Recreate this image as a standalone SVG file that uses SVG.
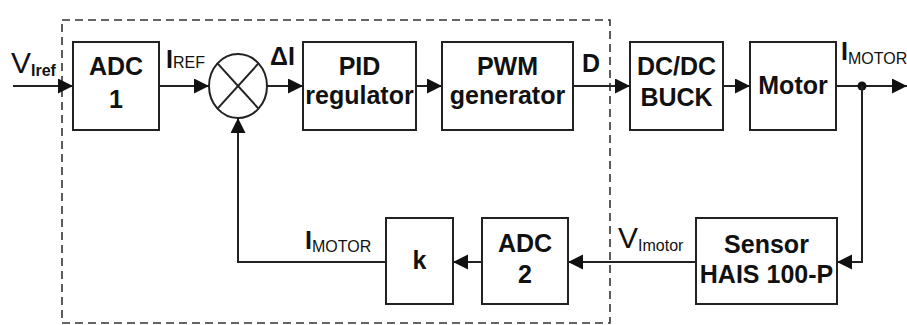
<svg xmlns="http://www.w3.org/2000/svg" width="907" height="325" viewBox="0 0 907 325">
<style>
.box{fill:#fff;stroke:#222;stroke-width:2}
.ln{fill:none;stroke:#222;stroke-width:2}
.t{font-family:"Liberation Sans",Arial,sans-serif;font-weight:bold;font-size:25px;fill:#111;text-anchor:middle}
.lb{font-family:"Liberation Sans",Arial,sans-serif;fill:#111}
.big{font-size:25px;font-weight:bold}
.sub{font-size:16px}
</style>
<defs>
<marker id="ah" markerWidth="16" markerHeight="16" refX="15" refY="7.5" orient="auto" markerUnits="userSpaceOnUse">
<path d="M0,0 L15,7.5 L0,15 Z" fill="#111"/>
</marker>
</defs>
<rect x="62" y="20" width="548" height="303" fill="none" stroke="#333" stroke-width="1.6" stroke-dasharray="8,5"/>
<g id="connectors">
<line class="ln" x1="13" y1="86" x2="73" y2="86" marker-end="url(#ah)"/>
<line class="ln" x1="159" y1="86" x2="209" y2="86" marker-end="url(#ah)"/>
<line class="ln" x1="267" y1="86" x2="303" y2="86" marker-end="url(#ah)"/>
<line class="ln" x1="416" y1="86" x2="442" y2="86" marker-end="url(#ah)"/>
<line class="ln" x1="573" y1="86" x2="630" y2="86" marker-end="url(#ah)"/>
<line class="ln" x1="723" y1="86" x2="750" y2="86" marker-end="url(#ah)"/>
<line class="ln" x1="836" y1="86" x2="907" y2="86" marker-end="url(#ah)"/>
<circle cx="862" cy="86" r="4.5" fill="#111"/>
<polyline class="ln" points="862,86 862,262 837,262" marker-end="url(#ah)"/>
<line class="ln" x1="696" y1="262" x2="568" y2="262" marker-end="url(#ah)"/>
<line class="ln" x1="482" y1="262" x2="453" y2="262" marker-end="url(#ah)"/>
<polyline class="ln" points="386,262 238,262 238,118" marker-end="url(#ah)"/>
</g>
<g id="adc1"><rect class="box" x="73" y="42" width="86" height="88"/><text class="t" x="116" y="75">ADC</text><text class="t" x="116" y="108">1</text></g>
<g id="sum"><ellipse cx="238" cy="86" rx="29" ry="32" fill="#fff" stroke="#222" stroke-width="2"/><line class="ln" x1="217.5" y1="63.4" x2="258.5" y2="108.6"/><line class="ln" x1="258.5" y1="63.4" x2="217.5" y2="108.6"/></g>
<g id="pid"><rect class="box" x="303" y="42" width="113" height="88"/><text class="t" x="359.5" y="75">PID</text><text class="t" x="359.5" y="104">regulator</text></g>
<g id="pwm"><rect class="box" x="442" y="42" width="131" height="88"/><text class="t" x="507.5" y="75">PWM</text><text class="t" x="507.5" y="104">generator</text></g>
<g id="dcdc"><rect class="box" x="630" y="42" width="93" height="88"/><text class="t" x="676.5" y="75">DC/DC</text><text class="t" x="676.5" y="106">BUCK</text></g>
<g id="motor"><rect class="box" x="750" y="42" width="86" height="88"/><text class="t" x="793" y="94">Motor</text></g>
<g id="sensor"><rect class="box" x="696" y="218" width="141" height="86"/><text class="t" x="766.5" y="253">Sensor</text><text class="t" x="766.5" y="283">HAIS 100-P</text></g>
<g id="adc2"><rect class="box" x="482" y="218" width="86" height="86"/><text class="t" x="525" y="252">ADC</text><text class="t" x="525" y="283">2</text></g>
<g id="k"><rect class="box" x="386" y="218" width="67" height="86"/><text class="t" x="419.5" y="269">k</text></g>
<g id="labels">
<text class="lb" x="11" y="73"><tspan style="font-size:30px">V</tspan><tspan class="sub" font-weight="bold" dy="3">Iref</tspan></text>
<text class="lb" x="166" y="68"><tspan class="big">I</tspan><tspan class="sub">REF</tspan></text>
<text class="lb big" x="270" y="65">ΔI</text>
<text class="lb big" x="582" y="72">D</text>
<text class="lb" x="841" y="60"><tspan class="big">I</tspan><tspan class="sub" dy="4">MOTOR</tspan></text>
<text class="lb" x="305" y="249"><tspan class="big">I</tspan><tspan class="sub" dy="3">MOTOR</tspan></text>
<text class="lb" x="618" y="248"><tspan style="font-size:30px">V</tspan><tspan class="sub" dy="3">Imotor</tspan></text>
</g>
</svg>
